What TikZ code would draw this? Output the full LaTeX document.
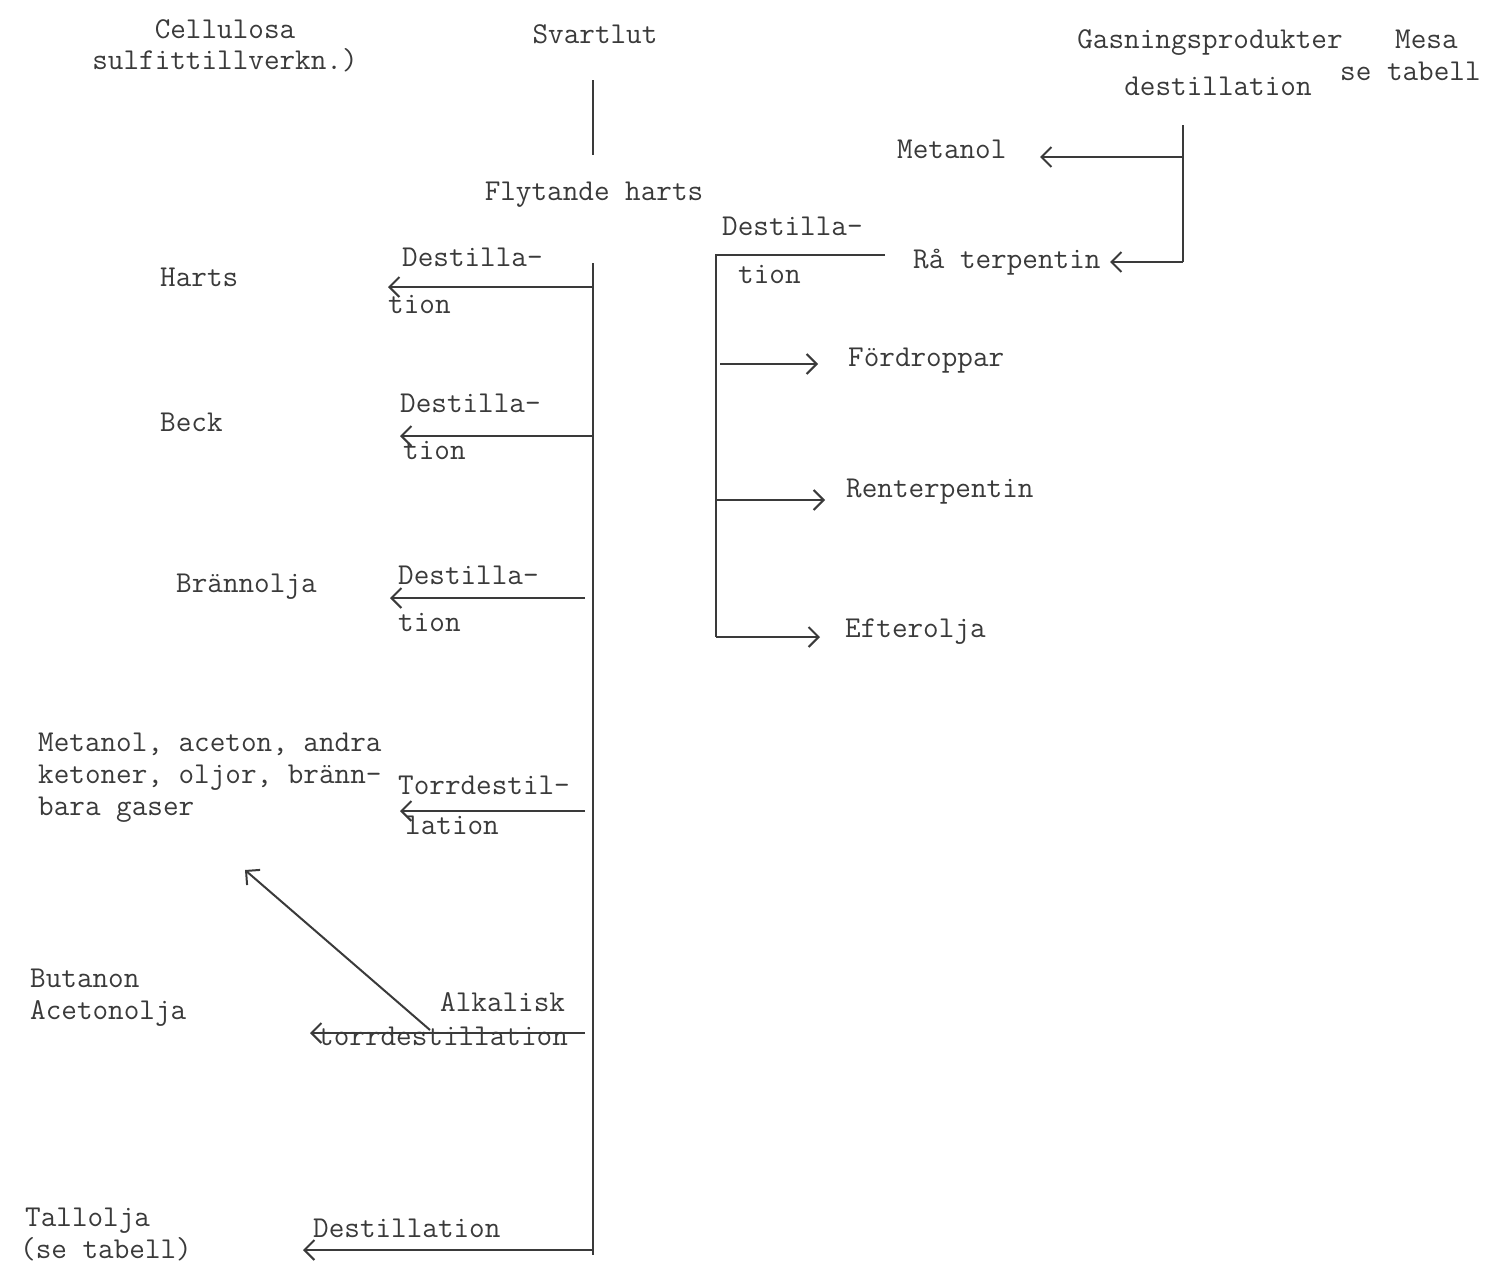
\documentclass[tikz,border=0pt]{standalone}
\usepackage{fontspec}
\usetikzlibrary{arrows.meta}
\definecolor{ink}{HTML}{3A3A3A}
\tikzset{
  lbl/.style={inner sep=0pt, anchor=base west, text=ink, font=\ttfamily\fontsize{30.3}{32}\selectfont},
  lblc/.style={lbl, anchor=base},
  flow/.style={draw=ink, line width=2pt},
}

\begin{document}
\begin{tikzpicture}[x=1pt,y=-1pt,>={Straight Barb[length=10pt,width=20pt]}]
\useasboundingbox (0,0) rectangle (1494,1267);

% heads
\node[lblc] (cell1) at (225,38) {Cellulosa};
\node[lblc] (cell2) at (225,69) {sulfittillverkn.)};
\node[lblc] (svart) at (595,43) {Svartlut};
\node[lblc] (flyt) at (594,200) {Flytande harts};
\node[lblc] (gas) at (1210,48) {Gasningsprodukter};
\node[lblc] (gasdest) at (1218,95) {destillation};
\node[lbl] (mesa) at (1395,48) {Mesa};
\node[lbl] (mesatab) at (1340,80) {se tabell};

% main line of the black liquor
\coordinate (s0) at (593,80);
\coordinate (s1) at (593,155);
\coordinate (sp0) at (593,263);
\coordinate (sp1) at (593,1255);
\draw[flow] (s0) -- (s1);
\draw[flow] (sp0) -- (sp1);

% products on the left (multi-line nodes sit on their last line)
\node[lbl] (harts) at (160,286) {Harts};
\node[lbl] (beck) at (160,431) {Beck};
\node[lbl] (brann) at (176,592) {Brännolja};
\node[lbl, align=left] (meta) at (38,815) {Metanol, aceton, andra\\ketoner, oljor, bränn-\\bara gaser};
\node[lbl, align=left] (buta) at (30,1019) {Butanon\\Acetonolja};
\node[lbl, align=left] (tall) at (20,1258) {\hspace{5pt}Tallolja\\(se tabell)};

\node[lbl] (d1a) at (402,266) {Destilla-};
\node[lbl] (d1b) at (388,313) {tion};
\node[lbl] (d2a) at (400,412) {Destilla-};
\node[lbl] (d2b) at (403,459) {tion};
\node[lbl] (d3a) at (398,584) {Destilla-};
\node[lbl] (d3b) at (398,631) {tion};
\node[lbl] (t1a) at (398,794) {Torrdestil-};
\node[lbl] (t1b) at (405,834) {lation};
\node[lbl] (alka) at (440,1011) {Alkalisk};
\node[lbl] (alkb) at (318,1045) {torrdestillation};
\node[lbl] (dest) at (313,1237) {Destillation};

\coordinate (h0) at (593,287);  \coordinate (h1) at (388,287);
\coordinate (b0) at (593,436);  \coordinate (b1) at (400,436);
\coordinate (o0) at (585,598);  \coordinate (o1) at (390,598);
\coordinate (m0) at (585,811);  \coordinate (m1) at (400,811);
\coordinate (a0) at (585,1033); \coordinate (a1) at (310,1033);
\coordinate (t0) at (593,1250); \coordinate (t1) at (303,1250);
\coordinate (k0) at (430,1030); \coordinate (k1) at (245,870);
\draw[flow,->] (h0) -- (h1);
\draw[flow,->] (b0) -- (b1);
\draw[flow,->] (o0) -- (o1);
\draw[flow,->] (m0) -- (m1);
\draw[flow,->] (a0) -- (a1);
\draw[flow,->] (t0) -- (t1);
\draw[flow,->] (k0) -- (k1);

% gasning products on the right
\node[lbl] (metanol) at (897,158) {Metanol};
\node[lbl] (raterp) at (913,268) {Rå terpentin};
\coordinate (g0) at (1183,125);
\coordinate (g1) at (1183,262);
\coordinate (g2) at (1183,157);
\coordinate (gm) at (1040,157);
\coordinate (gr) at (1110,262);
\draw[flow] (g0) -- (g1);
\draw[flow,->] (g2) -- (gm);
\draw[flow,->] (g1) -- (gr);

\node[lbl] (d4a) at (722,235) {Destilla-};
\node[lbl] (d4b) at (738,283) {tion};
\node[lbl] (ford) at (848,366) {Fördroppar};
\node[lbl] (rent) at (846,497) {Renterpentin};
\node[lbl] (efter) at (845,637) {Efterolja};
\coordinate (r0) at (885,255);
\coordinate (r1) at (716,255);
\coordinate (r2) at (716,637);
\coordinate (f0) at (720,364); \coordinate (f1) at (818,364);
\coordinate (e0) at (716,500); \coordinate (e1) at (825,500);
\coordinate (q1) at (820,637);
\draw[flow] (r0) -- (r1) -- (r2);
\draw[flow,->] (f0) -- (f1);
\draw[flow,->] (e0) -- (e1);
\draw[flow,->] (r2) -- (q1);
\end{tikzpicture}
\end{document}
